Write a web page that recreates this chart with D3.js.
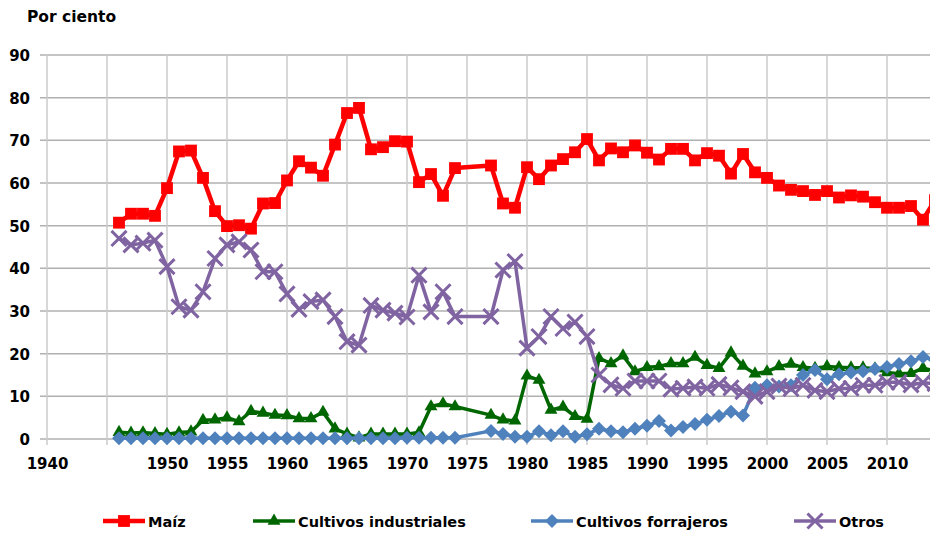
<!DOCTYPE html>
<html>
<head>
<meta charset="utf-8">
<script src="https://cdn.jsdelivr.net/npm/d3@7"></script>
<style>
  body { margin: 0; background: #fff; }
  svg { display: block; font-family: "DejaVu Sans", Verdana, sans-serif; font-weight: bold; }
</style>
</head>
<body>
<svg id="chart" width="930" height="533"></svg>
<script>
// data (1975 and 1976 are missing in the source)
var years = [1946, 1947, 1948, 1949, 1950, 1951, 1952, 1953, 1954, 1955,
  1956, 1957, 1958, 1959, 1960, 1961, 1962, 1963, 1964, 1965,
  1966, 1967, 1968, 1969, 1970, 1971, 1972, 1973, 1974, 1977,
  1978, 1979, 1980, 1981, 1982, 1983, 1984, 1985, 1986, 1987,
  1988, 1989, 1990, 1991, 1992, 1993, 1994, 1995, 1996, 1997,
  1998, 1999, 2000, 2001, 2002, 2003, 2004, 2005, 2006, 2007,
  2008, 2009, 2010, 2011, 2012, 2013, 2014];

var maiz = [50.7, 52.8, 52.8, 52.3, 58.8, 67.4, 67.6, 61.2, 53.4, 49.9,
  50.1, 49.3, 55.2, 55.3, 60.6, 65.1, 63.6, 61.7, 69.0, 76.4,
  77.6, 67.9, 68.4, 69.8, 69.7, 60.2, 62.1, 57.0, 63.5, 64.1,
  55.2, 54.2, 63.7, 60.9, 64.1, 65.6, 67.2, 70.3, 65.3, 68.1,
  67.2, 68.8, 67.1, 65.5, 68.0, 68.0, 65.3, 67.0, 66.4, 62.2,
  66.8, 62.5, 61.2, 59.4, 58.4, 58.1, 57.2, 58.1, 56.6, 57.1,
  56.8, 55.5, 54.2, 54.2, 54.6, 51.4, 56.0];

var industriales = [1.6, 1.4, 1.5, 1.3, 1.1, 1.5, 1.7, 4.4, 4.5, 5.0,
  4.1, 6.5, 6.1, 5.6, 5.5, 4.8, 4.8, 6.3, 2.4, 1.2,
  0.3, 1.2, 1.2, 1.2, 1.2, 1.5, 7.6, 8.3, 7.6, 5.6,
  4.5, 4.3, 14.8, 13.8, 6.8, 7.5, 5.3, 4.7, 18.9, 17.7,
  19.5, 15.8, 16.8, 17.0, 17.7, 17.7, 19.2, 17.3, 16.6, 20.2,
  17.1, 15.3, 15.8, 17.0, 17.6, 16.8, 16.6, 17.0, 16.8, 16.7,
  16.7, 16.5, 15.6, 15.3, 15.4, 16.6, 16.0];

var forrajeros = [0.2, 0.2, 0.2, 0.2, 0.2, 0.2, 0.2, 0.2, 0.2, 0.2,
  0.2, 0.2, 0.2, 0.2, 0.2, 0.2, 0.2, 0.2, 0.2, 0.2,
  0.2, 0.2, 0.2, 0.2, 0.3, 0.3, 0.3, 0.3, 0.3, 1.9,
  1.2, 0.5, 0.5, 1.8, 0.9, 1.8, 0.5, 1.1, 2.4, 1.8,
  1.6, 2.4, 3.1, 4.2, 2.0, 2.8, 3.5, 4.5, 5.4, 6.4,
  5.5, 12.0, 12.6, 12.3, 12.6, 15.0, 16.2, 14.0, 15.2, 15.6,
  15.9, 16.4, 16.9, 17.6, 18.2, 19.2, 18.5];

var otros = [47.0, 45.5, 45.9, 46.6, 40.4, 31.0, 30.2, 34.5, 42.3, 45.5,
  46.2, 44.3, 39.2, 39.2, 34.0, 30.4, 32.2, 32.6, 28.7, 22.8,
  22.0, 31.3, 30.2, 29.5, 28.6, 38.4, 29.8, 34.5, 28.7, 28.7,
  39.6, 41.6, 21.3, 24.0, 28.7, 25.9, 27.4, 24.0, 15.0, 12.7,
  11.9, 13.6, 13.6, 13.6, 11.7, 11.9, 12.2, 11.9, 12.8, 12.0,
  11.1, 10.0, 11.1, 12.4, 11.8, 12.6, 11.4, 11.1, 11.8, 11.9,
  12.6, 12.6, 13.3, 13.3, 12.7, 13.2, 13.0];

var seriesNames = ["Maíz", "Cultivos industriales", "Cultivos forrajeros", "Otros"];
var xTicks = [1940, 1945, 1950, 1955, 1960, 1965, 1970, 1975, 1980, 1985, 1990, 1995, 2000, 2005, 2010];
var xTickLabels = ["1940", "", "1950", "1955", "1960", "1965", "1970", "1975", "1980", "1985", "1990", "1995", "2000", "2005", "2010"];
var yTicks = [0, 10, 20, 30, 40, 50, 60, 70, 80, 90];

(function drawChart() {
  var svg = d3.select("#chart");
  var left = 47, top = 55, bottom = 439;

  var x = d3.scaleLinear().domain([1940, 2015]).range([left, left + 75 * 12]);
  var y = d3.scaleLinear().domain([0, 90]).range([bottom, top]);

  var styles = [
    { color: "#ff0000", width: 4.5, symbol: d3.symbolSquare, size: 140, rotate: 0, filled: true },
    { color: "#006600", width: 3.5, symbol: d3.symbolTriangle, size: 72, rotate: 0, filled: true },
    { color: "#4f81bd", width: 3.5, symbol: d3.symbolSquare, size: 98, rotate: 45, filled: true },
    { color: "#8064a2", width: 3.5, symbol: d3.symbolX || d3.symbolCross, size: 150, rotate: 0, filled: false }
  ];
  var values = [maiz, industriales, forrajeros, otros];

  // grid
  var grid = svg.append("g").attr("class", "grid");
  grid.selectAll("line.h")
    .data(yTicks)
    .enter().append("line")
      .attr("class", "h")
      .attr("x1", left - 7)
      .attr("x2", 930)
      .attr("y1", function(d) { return y(d); })
      .attr("y2", function(d) { return y(d); })
      .attr("stroke", "#b0b0b0")
      .attr("stroke-width", 1.5);
  grid.selectAll("line.v")
    .data(xTicks)
    .enter().append("line")
      .attr("class", "v")
      .attr("x1", function(d) { return x(d); })
      .attr("x2", function(d) { return x(d); })
      .attr("y1", top)
      .attr("y2", bottom + 6)
      .attr("stroke", "#cbcbcb")
      .attr("stroke-width", 1.5);

  // axes (labels only, grid is drawn above)
  var xAxis = d3.axisBottom(x)
    .tickValues(xTicks)
    .tickFormat(function(d, i) { return xTickLabels[i]; })
    .tickSize(0)
    .tickPadding(0);
  var gx = svg.append("g")
    .attr("transform", "translate(0," + (bottom + 19) + ")")
    .call(xAxis);
  var yAxis = d3.axisLeft(y)
    .tickValues(yTicks)
    .tickSize(0)
    .tickPadding(0);
  var gy = svg.append("g")
    .attr("transform", "translate(30,0)")
    .call(yAxis);
  [gx, gy].forEach(function(g) {
    g.select(".domain").remove();
    g.selectAll("text")
      .attr("fill", "#000")
      .style("font-family", "'DejaVu Sans', Verdana, sans-serif")
      .style("font-weight", "bold")
      .style("font-size", "15px");
  });
  gy.selectAll("text").attr("dy", "0.36em");

  svg.append("text")
    .attr("x", 27)
    .attr("y", 22)
    .style("font-size", "15.5px")
    .text("Por ciento");

  // series
  var plot = svg.append("g");
  values.forEach(function(vals, s) {
    var st = styles[s];
    var pts = years.map(function(yr, i) { return { year: yr, value: vals[i] }; });
    var line = d3.line()
      .x(function(d) { return x(d.year); })
      .y(function(d) { return y(d.value); });
    var g = plot.append("g");
    g.append("path")
      .datum(pts)
      .attr("d", line)
      .attr("fill", "none")
      .attr("stroke", st.color)
      .attr("stroke-width", st.width)
      .attr("stroke-linejoin", "round");
    g.selectAll("path.mark")
      .data(pts)
      .enter().append("path")
        .attr("class", "mark")
        .attr("d", d3.symbol(st.symbol, st.size))
        .attr("transform", function(d) {
          return "translate(" + x(d.year) + "," + y(d.value) + ") rotate(" + st.rotate + ")";
        })
        .attr("fill", st.filled ? st.color : "none")
        .attr("stroke", st.color)
        .attr("stroke-width", st.filled ? 0 : 3);
  });

  // legend
  var legendX = [103, 253, 531, 794];
  var legend = svg.append("g");
  seriesNames.forEach(function(name, s) {
    var st = styles[s];
    var lx = legendX[s], ly = 521;
    legend.append("line")
      .attr("x1", lx).attr("x2", lx + 42)
      .attr("y1", ly).attr("y2", ly)
      .attr("stroke", st.color)
      .attr("stroke-width", st.width);
    legend.append("path")
      .attr("d", d3.symbol(st.symbol, st.size))
      .attr("transform", "translate(" + (lx + 21) + "," + ly + ") rotate(" + st.rotate + ")")
      .attr("fill", st.filled ? st.color : "none")
      .attr("stroke", st.color)
      .attr("stroke-width", st.filled ? 0 : 3);
    legend.append("text")
      .attr("x", lx + 45)
      .attr("y", ly + 6)
      .style("font-size", "14.5px")
      .text(name);
  });
})();
</script>
</body>
</html>
